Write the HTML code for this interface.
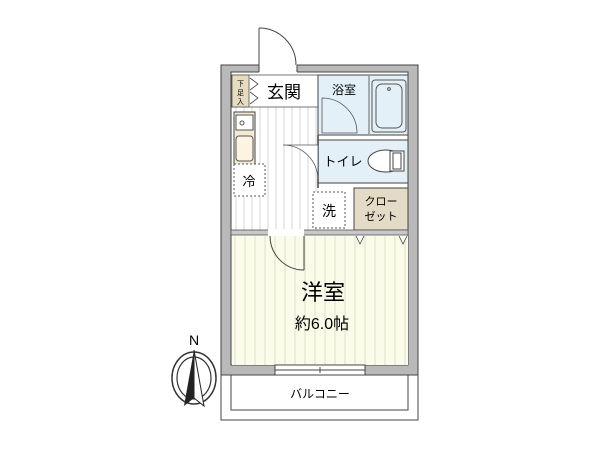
<!DOCTYPE html>
<html><head><meta charset="utf-8"><style>body{margin:0;background:#fff}svg{display:block}text{font-family:"Liberation Sans","Noto Sans CJK JP",sans-serif}</style></head><body>
<svg width="600" height="450" viewBox="0 0 600 450">
<defs>
<pattern id="vl" width="8" height="10" patternUnits="userSpaceOnUse"><rect width="8" height="10" fill="#fff"/><line x1="4" y1="0" x2="4" y2="10" stroke="#ccc" stroke-width="0.8"/></pattern>
<pattern id="vc" width="10" height="10" patternUnits="userSpaceOnUse"><rect width="10" height="10" fill="#fbfbe9"/><line x1="5" y1="0" x2="5" y2="10" stroke="#d8d8c4" stroke-width="0.8"/></pattern>
</defs>
<!-- outer walls -->
<rect x="221" y="65" width="197" height="310" fill="#b9b9b9" stroke="#444" stroke-width="1"/>
<rect x="231" y="72" width="177" height="293" fill="#fff" stroke="#444" stroke-width="1"/>
<!-- entry door opening -->
<rect x="259" y="64" width="38" height="9" fill="#fff"/>
<line x1="259" y1="65" x2="259" y2="72" stroke="#444"/><line x1="297" y1="65" x2="297" y2="72" stroke="#444"/>
<line x1="259" y1="28" x2="259" y2="65" stroke="#444"/>
<path d="M259 28 A37 37 0 0 1 296 65" fill="none" stroke="#444"/>
<!-- kitchen floor -->
<rect x="232" y="107" width="86" height="123" fill="url(#vl)"/>
<!-- genkan -->
<rect x="232" y="75" width="86" height="32" fill="#fff" stroke="#555" stroke-width="0.8"/>
<rect x="232" y="75" width="17" height="32" fill="#e6dcc0" stroke="#555" stroke-width="0.8"/>
<text x="240.5" y="86" font-size="7" text-anchor="middle">下</text>
<text x="240.5" y="95" font-size="7" text-anchor="middle">足</text>
<text x="240.5" y="104" font-size="7" text-anchor="middle">入</text>
<path d="M250 78 L258 84 L250 90 M250 92 L258 98 L250 104" fill="none" stroke="#444" stroke-width="0.8"/>
<text x="284" y="98" font-size="17" text-anchor="middle">玄関</text>
<!-- bath -->
<rect x="318" y="75" width="90" height="60" fill="#e3f0f8" stroke="#444" stroke-width="1"/>
<text x="344" y="94" font-size="12" text-anchor="middle">浴室</text>
<line x1="369" y1="76" x2="369" y2="134" stroke="#666"/>
<rect x="372" y="80" width="34" height="52" rx="3" fill="#e3f0f8" stroke="#555"/>
<rect x="376" y="84" width="26" height="44" rx="6" fill="none" stroke="#555"/>
<circle cx="389" cy="89" r="1.4" fill="none" stroke="#555"/>
<path d="M322 98 A35 35 0 0 1 357 133 L322 133 Z" fill="#e3f0f8" stroke="#555" stroke-width="0.8"/>
<!-- toilet -->
<rect x="318" y="140" width="90" height="43" fill="#e3f0f8" stroke="#444" stroke-width="1"/>
<line x1="318" y1="135" x2="318" y2="188" stroke="#444" stroke-width="1.5"/>
<text x="343" y="166" font-size="13" text-anchor="middle">トイレ</text>
<ellipse cx="386" cy="161" rx="18" ry="11" fill="#fff" stroke="#444"/>
<rect x="390" y="151" width="14" height="20" fill="#fff" stroke="#444"/>
<rect x="393" y="153" width="8" height="16" fill="none" stroke="#444"/>
<path d="M283 145 A35 35 0 0 1 318 180 L318 145 Z" fill="#fff" stroke="#555" stroke-width="0.8"/>
<!-- closet -->
<rect x="354" y="188" width="54" height="42" fill="#e3dbc6" stroke="#444"/>
<text x="381" y="205" font-size="11" text-anchor="middle">クロー</text>
<text x="381" y="220" font-size="11" text-anchor="middle">ゼット</text>
<!-- sink -->
<rect x="234" y="112" width="21" height="53" fill="#f3ead4" stroke="#444"/>
<rect x="236" y="115" width="17" height="15" fill="#fff" stroke="#555"/>
<circle cx="242" cy="123" r="2" fill="none" stroke="#555"/>
<rect x="236" y="136" width="17" height="25" rx="3" fill="#fdf3e2" stroke="#555"/>
<!-- fridge / wash -->
<rect x="234" y="164" width="31" height="32" fill="#fff" stroke="#555" stroke-dasharray="2 2"/>
<text x="249" y="186" font-size="13" text-anchor="middle">冷</text>
<rect x="313" y="192" width="32" height="36" fill="#fff" stroke="#555" stroke-dasharray="2 2"/>
<text x="329" y="216" font-size="14" text-anchor="middle">洗</text>
<!-- partition wall -->
<rect x="231" y="230" width="177" height="5" fill="#c8c8c8" stroke="#555" stroke-width="0.8"/>
<rect x="268" y="229" width="36" height="7" fill="#fff"/>
<!-- room -->
<rect x="232" y="236" width="176" height="129" fill="url(#vc)"/>
<line x1="304" y1="236" x2="304" y2="270" stroke="#444"/>
<path d="M270 236 A34 34 0 0 0 304 270" fill="none" stroke="#444"/>
<path d="M356 236 L360 244 L364 236 M399 236 L403 244 L407 236" fill="#fff" stroke="#444" stroke-width="0.8"/>
<text x="323" y="300" font-size="22" text-anchor="middle">洋室</text>
<text x="322" y="329" font-size="16" text-anchor="middle">約6.0帖</text>
<!-- window -->
<rect x="275" y="365" width="90" height="10" fill="#fff" stroke="#444"/>
<line x1="275" y1="370" x2="365" y2="370" stroke="#444"/>
<line x1="320" y1="367" x2="320" y2="373" stroke="#444"/>
<!-- balcony -->
<rect x="221" y="375" width="197" height="45" fill="#fff" stroke="#444"/>
<rect x="231" y="375" width="177" height="35" fill="#fff" stroke="#444"/>
<text x="320" y="398" font-size="12" text-anchor="middle">バルコニー</text>
<!-- compass -->
<text x="194" y="345" font-size="14" text-anchor="middle" font-family="Liberation Serif">N</text>
<ellipse cx="194" cy="378" rx="22" ry="26" fill="none" stroke="#333" stroke-width="1.5"/>
<ellipse cx="194" cy="378" rx="17" ry="21" fill="none" stroke="#333" stroke-width="1.2"/>
<path d="M194 350 L184 406 L194 398 Z" fill="#222"/>
<path d="M194 350 L204 406 L194 398 Z" fill="#fff" stroke="#222"/>
</svg>
</body></html>
